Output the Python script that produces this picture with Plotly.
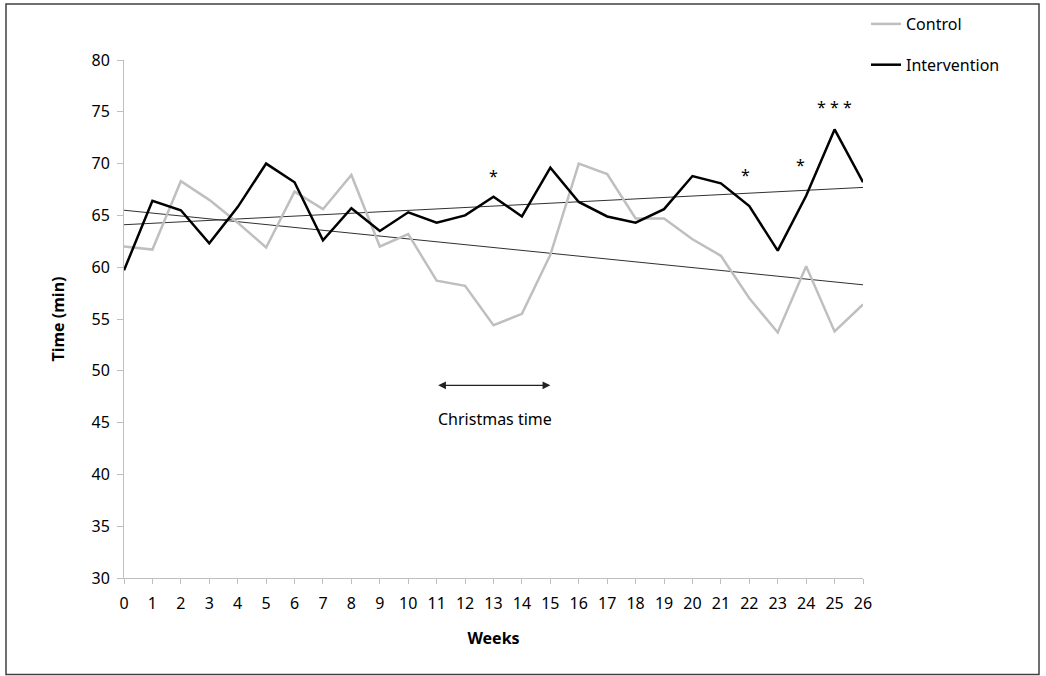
import plotly.graph_objects as go

weeks = list(range(27))
control = [62.0, 61.7, 68.3, 66.5, 64.3, 61.9, 67.3, 65.6, 68.9, 62.0, 63.2, 58.7, 58.2, 54.4,
           55.5, 61.2, 70.0, 69.0, 64.7, 64.7, 62.7, 61.1, 57.0, 53.7, 60.1, 53.8, 56.4]
intervention = [59.7, 66.4, 65.5, 62.3, 65.8, 70.0, 68.2, 62.6, 65.7, 63.5, 65.3, 64.3, 65.0, 66.8,
                64.9, 69.6, 66.3, 64.9, 64.3, 65.6, 68.8, 68.1, 65.9, 61.6, 66.9, 73.3, 68.2]
trend_x = [0, 26]
control_trend = [65.5, 58.3]
intervention_trend = [64.1, 67.7]
star_x = [13, 21.85, 23.8, 25]
star_y = [68.8, 68.9, 69.9, 75.5]
star_text = ["*", "*", "*", "* * *"]
y_ticks = list(range(30, 81, 5))

FONT = "Noto Sans"
AXIS_COLOR = "#bfbfbf"
W, H = 1046, 676
L, R, T, B = 124, 183, 60, 98
PW, PH = W - L - R, H - T - B

fig = go.Figure()
fig.add_trace(go.Scatter(x=trend_x, y=control_trend, mode="lines",
                         line=dict(color="#303030", width=1), showlegend=False, hoverinfo="skip"))
fig.add_trace(go.Scatter(x=trend_x, y=intervention_trend, mode="lines",
                         line=dict(color="#303030", width=1), showlegend=False, hoverinfo="skip"))
fig.add_trace(go.Scatter(x=weeks, y=control, mode="lines", name="Control",
                         line=dict(color="#bfbfbf", width=2.5), legendgroup="c"))
fig.add_trace(go.Scatter(x=weeks, y=intervention, mode="lines", name="Intervention",
                         line=dict(color="#000000", width=2.5), legendgroup="i"))

for sx, sy, st in zip(star_x, star_y, star_text):
    fig.add_annotation(x=sx, y=sy, text=st, showarrow=False,
                       font=dict(family=FONT, size=16, color="#000"))

# Christmas arrow
fig.add_annotation(x=15, y=48.6, ax=11, ay=48.6, xref="x", yref="y", axref="x", ayref="y",
                   text="", showarrow=True, arrowhead=2, startarrowhead=2, arrowside="end+start",
                   arrowsize=1.3, arrowwidth=1.2, arrowcolor="#222")
fig.add_annotation(x=13.05, y=45.3, text="Christmas time", showarrow=False,
                   font=dict(family=FONT, size=16, color="#000"))

# outer border
fig.add_shape(type="rect", xref="paper", yref="paper",
              x0=(6 - L) / PW, x1=(1039 - L) / PW,
              y0=-(674.5 - (T + PH)) / PH, y1=(T + PH - 4) / PH,
              line=dict(color="#404040", width=1.5))

fig.update_layout(
    width=W, height=H,
    margin=dict(l=L, r=R, t=T, b=B, autoexpand=False),
    paper_bgcolor="white", plot_bgcolor="white",
    font=dict(family=FONT, size=16, color="#000"),
    showlegend=True,
    legend=dict(xref="container", yref="container", x=866 / W, y=1 - 7 / H,
                xanchor="left", yanchor="top", tracegroupgap=17,
                font=dict(family=FONT, size=16), bgcolor="rgba(0,0,0,0)"),
    xaxis=dict(range=[0, 26], tickmode="array", tickvals=weeks, ticktext=[str(w) for w in weeks],
               showgrid=False, zeroline=False, showline=True, linecolor=AXIS_COLOR, linewidth=1,
               ticks="outside", ticklen=5, tickcolor=AXIS_COLOR, ticklabelstandoff=6,
               tickfont=dict(family=FONT, size=16),
               title=dict(text="<b>Weeks</b>", standoff=19, font=dict(family=FONT, size=16))),
    yaxis=dict(range=[30, 80], tickmode="array", tickvals=y_ticks,
               showgrid=False, zeroline=False, showline=True, linecolor=AXIS_COLOR, linewidth=1,
               ticks="outside", ticklen=6, tickcolor=AXIS_COLOR, ticklabelstandoff=4,
               tickfont=dict(family=FONT, size=16),
               title=dict(text="<b>Time (min)</b>", standoff=22, font=dict(family=FONT, size=16))),
)

fig.write_html("out.html", config={"displayModeBar": False},
               post_script="document.body.style.margin='0';")
